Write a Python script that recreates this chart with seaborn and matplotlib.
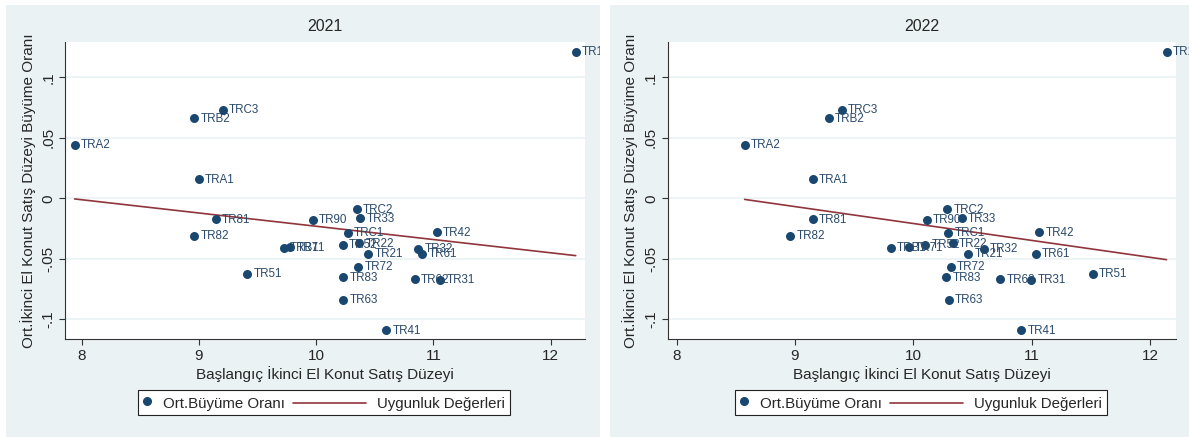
import numpy as np
import pandas as pd
import matplotlib
matplotlib.use("Agg")
import matplotlib.pyplot as plt
from matplotlib.patches import Rectangle
from matplotlib.lines import Line2D
from matplotlib.legend_handler import HandlerLine2D
from matplotlib.transforms import Bbox, TransformedBbox
import seaborn as sns

sns.set_theme(style="white")
plt.rcParams['font.family'] = ['Liberation Sans', 'DejaVu Sans']

regions = ["TR10", "TRC3", "TRB2", "TRA2", "TRA1", "TR81", "TR82", "TR90", "TRC2",
           "TR33", "TRC1", "TR42", "TRB1", "TR71", "TR52", "TR22", "TR21", "TR32",
           "TR61", "TR72", "TR51", "TR83", "TR62", "TR31", "TR63", "TR41"]

growth = [0.1212, 0.0732, 0.0664, 0.0443, 0.0160, -0.0171, -0.0309, -0.0177, -0.0088,
          -0.0166, -0.0284, -0.0281, -0.0408, -0.0405, -0.0383, -0.0373, -0.0456, -0.0415,
          -0.0456, -0.0565, -0.0623, -0.0654, -0.0668, -0.0673, -0.0838, -0.1088]

level_2021 = [12.213, 9.203, 8.961, 7.941, 9.000, 9.144, 8.961, 9.970, 10.347,
              10.375, 10.268, 11.030, 9.722, 9.779, 10.226, 10.368, 10.443, 10.872,
              10.905, 10.358, 9.412, 10.229, 10.839, 11.059, 10.232, 10.598]

level_2022 = [12.140, 9.394, 9.286, 8.575, 9.149, 9.149, 8.962, 10.114, 10.286,
              10.410, 10.296, 11.065, 9.810, 9.962, 10.100, 10.334, 10.463, 10.596,
              11.035, 10.317, 11.517, 10.277, 10.736, 10.998, 10.298, 10.911]

years = ["2021", "2022"]
x_ticks = [8, 9, 10, 11, 12]
y_ticks = [-0.1, -0.05, 0, 0.05, 0.1]
y_ticklabels = ["-.1", "-.05", "0", ".05", ".1"]

navy = "#1a476f"
maroon = "#90353b"
panel_bg = "#eaf2f3"

W, H = 1189, 437
fig = plt.figure(figsize=(W / 100, H / 100), dpi=100)
fig.patch.set_facecolor("white")


def fx(px):
    return px / W


def fy(py):
    return 1 - py / H


class LongLineHandler(HandlerLine2D):
    """Legend line that extends leftwards beyond the (short) handle box."""
    def __init__(self, extra_px, **kw):
        super().__init__(**kw)
        self.extra_px = extra_px

    def create_artists(self, legend, orig_handle, xdescent, ydescent, width, height,
                       fontsize, trans):
        y = height / 2 - ydescent
        line = Line2D([-xdescent - self.extra_px, -xdescent + width], [y, y],
                      color=orig_handle.get_color(), lw=orig_handle.get_linewidth())
        line.set_transform(trans)
        return [line]


panels = [(6, 600), (610, 1189)]
for x0, x1 in panels:
    fig.patches.append(Rectangle((fx(x0), 0), fx(x1 - x0), fy(5), transform=fig.transFigure,
                                 facecolor=panel_bg, edgecolor="none", zorder=-5))

axes_px = [(65, 585, 42, 339.3, (7.859, 12.292), 324),
           (667.6, 1176, 42, 339.3, (7.924, 12.22), 921)]
levels = [level_2021, level_2022]

for i, (l, r, t, b, xlim, legc) in enumerate(axes_px):
    ax = fig.add_axes([fx(l), fy(b), fx(r - l), (b - t) / H])
    df = pd.DataFrame({"level": levels[i], "growth": growth, "region": regions})
    ax.set_facecolor("white")
    for yt in y_ticks:
        ax.axhline(yt, color=panel_bg, lw=1.2, zorder=0)
    sns.scatterplot(data=df, x="level", y="growth", ax=ax, color=navy, s=42,
                    edgecolor=navy, linewidth=0, zorder=3, legend=False)
    sns.regplot(data=df, x="level", y="growth", ax=ax, scatter=False, ci=None,
                color=maroon, line_kws={"lw": 1.2, "zorder": 2}, truncate=True)
    px0, px1 = panels[i]
    clipbox = TransformedBbox(Bbox([[fx(px0), 0], [fx(px1), fy(5)]]), fig.transFigure)
    for xv, yv, name in zip(df["level"], df["growth"], df["region"]):
        ann = ax.annotate(name, (xv, yv), xytext=(4.5, -0.5), textcoords="offset points",
                          ha="left", va="center", fontsize=8.4, color="#2b4a6b",
                          zorder=4, annotation_clip=False)
        ann.set_clip_on(True)
        ann.set_clip_box(clipbox)
    ax.set_xlim(*xlim)
    ax.set_ylim(-0.1165, 0.1292)
    ax.set_xticks(x_ticks)
    ax.set_xticklabels([str(v) for v in x_ticks], fontsize=11)
    ax.set_yticks(y_ticks)
    ax.set_yticklabels(y_ticklabels, fontsize=11, rotation=90, va="center")
    ax.tick_params(axis="both", length=4, width=0.8, color="#333333", direction="out",
                   bottom=True, left=True, pad=3)
    for s in ["top", "right"]:
        ax.spines[s].set_visible(False)
    for s in ["left", "bottom"]:
        ax.spines[s].set_color("#333333")
        ax.spines[s].set_linewidth(0.8)
    ax.set_xlabel("Başlangıç İkinci El Konut Satış Düzeyi", fontsize=11, labelpad=2)
    ax.set_ylabel("Ort.İkinci El Konut Satış Düzeyi Büyüme Oranı", fontsize=11, labelpad=4)
    ax.set_title(years[i], fontsize=11.5, pad=8)

    fs = 10.8
    em = fs * 100 / 72
    dot = Line2D([], [], marker="o", color=navy, ls="none", markersize=5.5)
    fit = Line2D([], [], color=maroon, lw=1.2)
    leg = fig.legend([dot, fit], ["Ort.Büyüme Oranı", "Uygunluk Değerleri"], ncol=2,
                     loc="center", bbox_to_anchor=(fx(legc), fy(402.5)),
                     frameon=True, fancybox=False, fontsize=fs, handlelength=0.6,
                     handleheight=1.3, columnspacing=(26 + 46) / em,
                     handletextpad=0.75, borderpad=0.3, framealpha=1,
                     handler_map={fit: LongLineHandler(46)})
    leg.get_frame().set_edgecolor("#222222")
    leg.get_frame().set_linewidth(0.8)
    leg.get_frame().set_facecolor("white")

fig.savefig("out.png", dpi=100, facecolor=fig.get_facecolor())
